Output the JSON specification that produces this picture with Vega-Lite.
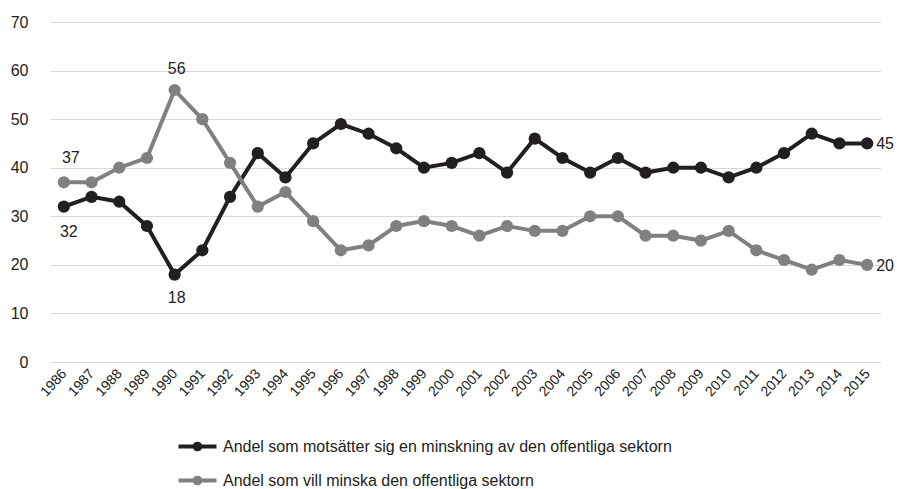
{
  "$schema": "https://vega.github.io/schema/vega-lite/v6.json",
  "autosize": "none",
  "width": 831,
  "height": 340,
  "padding": {"left": 50, "top": 22, "right": 16, "bottom": 127},
  "background": "white",
  "config": {
    "view": {"stroke": null},
    "font": "Liberation Sans"
  },
  "data": {
    "values": [
      {"year": "1986", "series": "Andel som motsätter sig en minskning av den offentliga sektorn", "value": 32},
      {"year": "1987", "series": "Andel som motsätter sig en minskning av den offentliga sektorn", "value": 34},
      {"year": "1988", "series": "Andel som motsätter sig en minskning av den offentliga sektorn", "value": 33},
      {"year": "1989", "series": "Andel som motsätter sig en minskning av den offentliga sektorn", "value": 28},
      {"year": "1990", "series": "Andel som motsätter sig en minskning av den offentliga sektorn", "value": 18},
      {"year": "1991", "series": "Andel som motsätter sig en minskning av den offentliga sektorn", "value": 23},
      {"year": "1992", "series": "Andel som motsätter sig en minskning av den offentliga sektorn", "value": 34},
      {"year": "1993", "series": "Andel som motsätter sig en minskning av den offentliga sektorn", "value": 43},
      {"year": "1994", "series": "Andel som motsätter sig en minskning av den offentliga sektorn", "value": 38},
      {"year": "1995", "series": "Andel som motsätter sig en minskning av den offentliga sektorn", "value": 45},
      {"year": "1996", "series": "Andel som motsätter sig en minskning av den offentliga sektorn", "value": 49},
      {"year": "1997", "series": "Andel som motsätter sig en minskning av den offentliga sektorn", "value": 47},
      {"year": "1998", "series": "Andel som motsätter sig en minskning av den offentliga sektorn", "value": 44},
      {"year": "1999", "series": "Andel som motsätter sig en minskning av den offentliga sektorn", "value": 40},
      {"year": "2000", "series": "Andel som motsätter sig en minskning av den offentliga sektorn", "value": 41},
      {"year": "2001", "series": "Andel som motsätter sig en minskning av den offentliga sektorn", "value": 43},
      {"year": "2002", "series": "Andel som motsätter sig en minskning av den offentliga sektorn", "value": 39},
      {"year": "2003", "series": "Andel som motsätter sig en minskning av den offentliga sektorn", "value": 46},
      {"year": "2004", "series": "Andel som motsätter sig en minskning av den offentliga sektorn", "value": 42},
      {"year": "2005", "series": "Andel som motsätter sig en minskning av den offentliga sektorn", "value": 39},
      {"year": "2006", "series": "Andel som motsätter sig en minskning av den offentliga sektorn", "value": 42},
      {"year": "2007", "series": "Andel som motsätter sig en minskning av den offentliga sektorn", "value": 39},
      {"year": "2008", "series": "Andel som motsätter sig en minskning av den offentliga sektorn", "value": 40},
      {"year": "2009", "series": "Andel som motsätter sig en minskning av den offentliga sektorn", "value": 40},
      {"year": "2010", "series": "Andel som motsätter sig en minskning av den offentliga sektorn", "value": 38},
      {"year": "2011", "series": "Andel som motsätter sig en minskning av den offentliga sektorn", "value": 40},
      {"year": "2012", "series": "Andel som motsätter sig en minskning av den offentliga sektorn", "value": 43},
      {"year": "2013", "series": "Andel som motsätter sig en minskning av den offentliga sektorn", "value": 47},
      {"year": "2014", "series": "Andel som motsätter sig en minskning av den offentliga sektorn", "value": 45},
      {"year": "2015", "series": "Andel som motsätter sig en minskning av den offentliga sektorn", "value": 45},
      {"year": "1986", "series": "Andel som vill minska den offentliga sektorn", "value": 37},
      {"year": "1987", "series": "Andel som vill minska den offentliga sektorn", "value": 37},
      {"year": "1988", "series": "Andel som vill minska den offentliga sektorn", "value": 40},
      {"year": "1989", "series": "Andel som vill minska den offentliga sektorn", "value": 42},
      {"year": "1990", "series": "Andel som vill minska den offentliga sektorn", "value": 56},
      {"year": "1991", "series": "Andel som vill minska den offentliga sektorn", "value": 50},
      {"year": "1992", "series": "Andel som vill minska den offentliga sektorn", "value": 41},
      {"year": "1993", "series": "Andel som vill minska den offentliga sektorn", "value": 32},
      {"year": "1994", "series": "Andel som vill minska den offentliga sektorn", "value": 35},
      {"year": "1995", "series": "Andel som vill minska den offentliga sektorn", "value": 29},
      {"year": "1996", "series": "Andel som vill minska den offentliga sektorn", "value": 23},
      {"year": "1997", "series": "Andel som vill minska den offentliga sektorn", "value": 24},
      {"year": "1998", "series": "Andel som vill minska den offentliga sektorn", "value": 28},
      {"year": "1999", "series": "Andel som vill minska den offentliga sektorn", "value": 29},
      {"year": "2000", "series": "Andel som vill minska den offentliga sektorn", "value": 28},
      {"year": "2001", "series": "Andel som vill minska den offentliga sektorn", "value": 26},
      {"year": "2002", "series": "Andel som vill minska den offentliga sektorn", "value": 28},
      {"year": "2003", "series": "Andel som vill minska den offentliga sektorn", "value": 27},
      {"year": "2004", "series": "Andel som vill minska den offentliga sektorn", "value": 27},
      {"year": "2005", "series": "Andel som vill minska den offentliga sektorn", "value": 30},
      {"year": "2006", "series": "Andel som vill minska den offentliga sektorn", "value": 30},
      {"year": "2007", "series": "Andel som vill minska den offentliga sektorn", "value": 26},
      {"year": "2008", "series": "Andel som vill minska den offentliga sektorn", "value": 26},
      {"year": "2009", "series": "Andel som vill minska den offentliga sektorn", "value": 25},
      {"year": "2010", "series": "Andel som vill minska den offentliga sektorn", "value": 27},
      {"year": "2011", "series": "Andel som vill minska den offentliga sektorn", "value": 23},
      {"year": "2012", "series": "Andel som vill minska den offentliga sektorn", "value": 21},
      {"year": "2013", "series": "Andel som vill minska den offentliga sektorn", "value": 19},
      {"year": "2014", "series": "Andel som vill minska den offentliga sektorn", "value": 21},
      {"year": "2015", "series": "Andel som vill minska den offentliga sektorn", "value": 20}
    ]
  },
  "encoding": {
    "x": {
      "field": "year",
      "type": "ordinal",
      "scale": {"type": "point", "padding": 0.5},
      "axis": {
        "title": null,
        "labelAngle": -48,
        "labelFontSize": 14,
        "labelColor": "#222222",
        "labelPadding": 9,
        "ticks": false,
        "domain": false,
        "grid": false
      }
    },
    "y": {
      "field": "value",
      "type": "quantitative",
      "scale": {"domain": [0, 70]},
      "axis": {
        "title": null,
        "values": [0, 10, 20, 30, 40, 50, 60, 70],
        "labelFontSize": 16,
        "labelColor": "#222222",
        "labelPadding": 22,
        "ticks": false,
        "domain": false,
        "grid": true,
        "gridColor": "#d9d9d9",
        "gridWidth": 1.2
      }
    }
  },
  "layer": [
    {
      "mark": {"type": "line", "strokeWidth": 4, "point": {"filled": true, "size": 150, "opacity": 1}},
      "encoding": {
        "color": {
          "field": "series",
          "type": "nominal",
          "sort": ["Andel som motsätter sig en minskning av den offentliga sektorn", "Andel som vill minska den offentliga sektorn"],
          "scale": {
            "domain": ["Andel som motsätter sig en minskning av den offentliga sektorn", "Andel som vill minska den offentliga sektorn"],
            "range": ["#231f20", "#808080"]
          },
          "legend": {
            "orient": "none",
            "legendX": 136,
            "legendY": 413,
            "direction": "vertical",
            "title": null,
            "symbolType": "M-2,0L2,0M0.3,0A0.3,0.3,0,1,1,-0.3,0A0.3,0.3,0,1,1,0.3,0Z",
            "symbolSize": 361,
            "symbolStrokeWidth": 4,
            "labelFontSize": 16,
            "labelColor": "#222222",
            "labelOffset": 14,
            "labelLimit": 600,
            "rowPadding": 11,
            "encode": {
              "symbols": {
                "update": {
                  "fill": {"scale": "color", "field": "value"},
                  "stroke": {"scale": "color", "field": "value"},
                  "opacity": {"value": 1}
                }
              }
            }
          }
        }
      }
    },
    {
      "transform": [{"filter": "datum.year == '1986' && datum.series == 'Andel som vill minska den offentliga sektorn'"}],
      "mark": {"type": "text", "fontSize": 16, "color": "#222222", "dy": -24, "dx": 7},
      "encoding": {"text": {"field": "value"}}
    },
    {
      "transform": [{"filter": "datum.year == '1986' && datum.series == 'Andel som motsätter sig en minskning av den offentliga sektorn'"}],
      "mark": {"type": "text", "fontSize": 16, "color": "#222222", "dy": 25, "dx": 5},
      "encoding": {"text": {"field": "value"}}
    },
    {
      "transform": [{"filter": "datum.year == '1990' && datum.series == 'Andel som vill minska den offentliga sektorn'"}],
      "mark": {"type": "text", "fontSize": 16, "color": "#222222", "dy": -21, "dx": 2},
      "encoding": {"text": {"field": "value"}}
    },
    {
      "transform": [{"filter": "datum.year == '1990' && datum.series == 'Andel som motsätter sig en minskning av den offentliga sektorn'"}],
      "mark": {"type": "text", "fontSize": 16, "color": "#222222", "dy": 23, "dx": 2},
      "encoding": {"text": {"field": "value"}}
    },
    {
      "transform": [{"filter": "datum.year == '2015'"}],
      "mark": {"type": "text", "fontSize": 16, "color": "#222222", "align": "left", "dx": 9, "dy": 1},
      "encoding": {"text": {"field": "value"}}
    }
  ]
}
